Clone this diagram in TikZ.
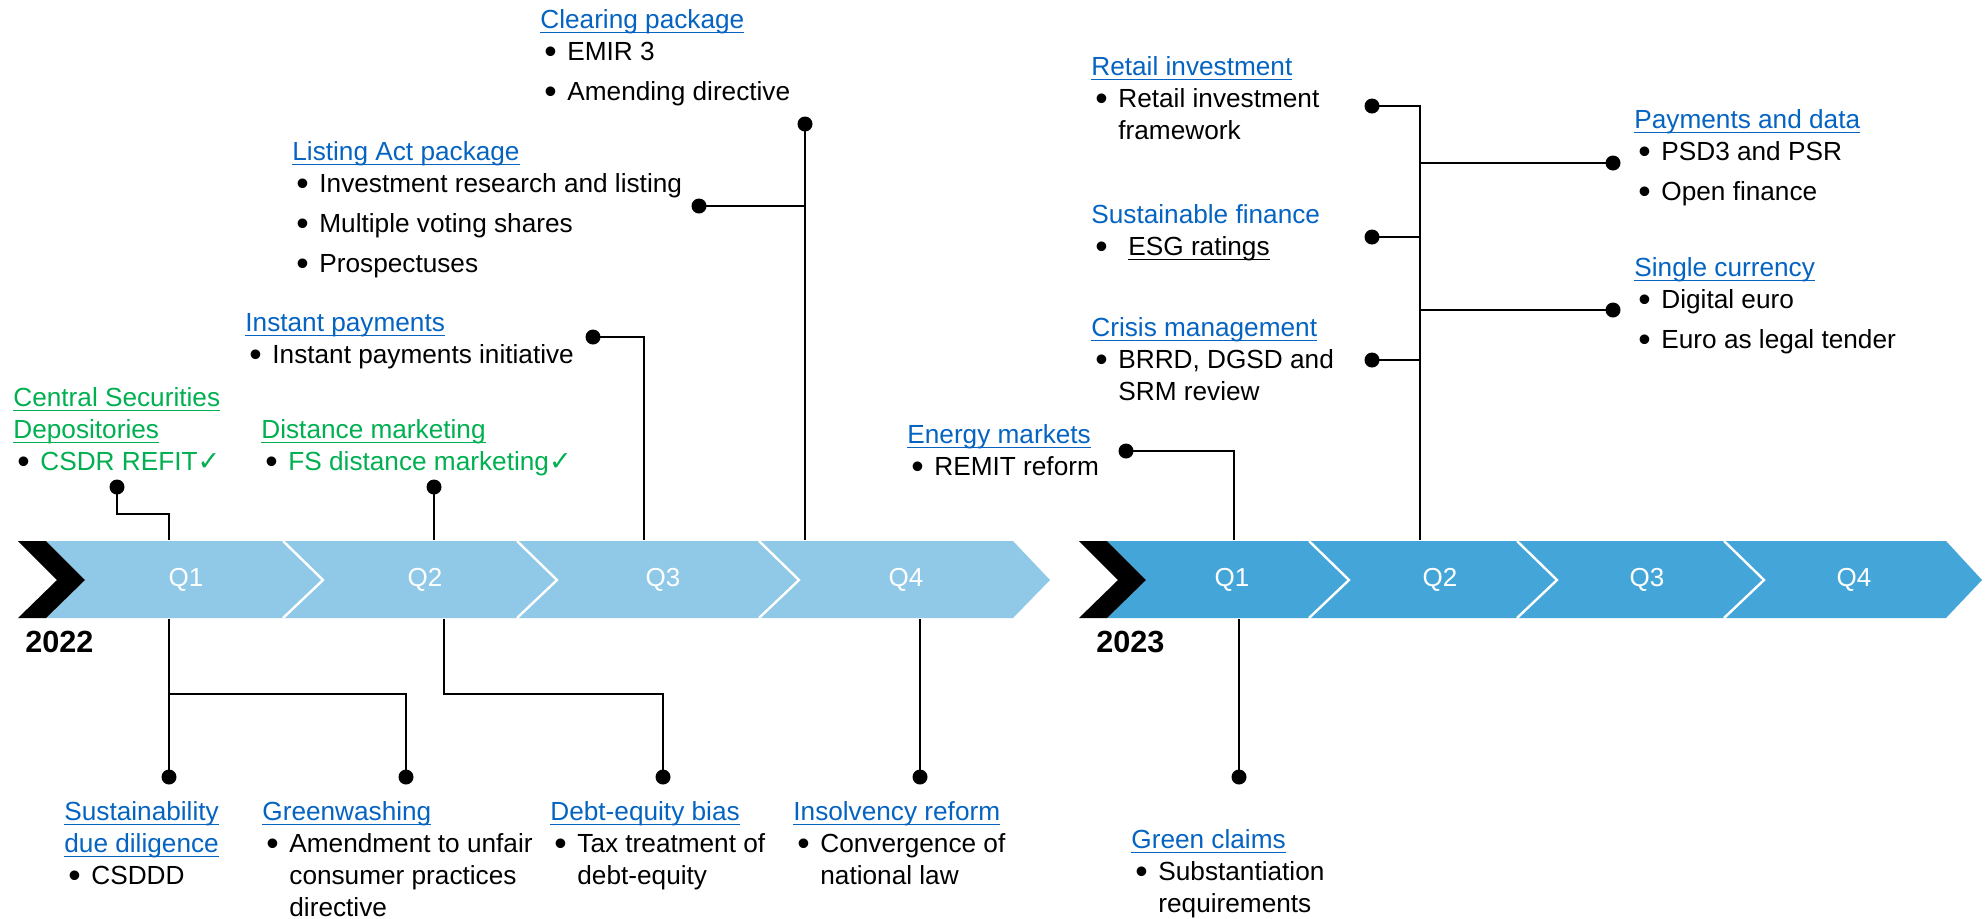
\documentclass[tikz,border=0pt]{standalone}
\usepackage{fontspec}
\usepackage{graphicx}
\setmainfont{Liberation Sans}
\newfontfamily\symf{DejaVu Sans}
\usetikzlibrary{positioning,calc}
\definecolor{lnk}{RGB}{5,99,193}
\definecolor{grn}{RGB}{0,176,80}
\definecolor{barA}{RGB}{143,201,231}
\definecolor{barB}{RGB}{68,166,216}
\newcommand{\ulin}[1]{\setbox0\hbox{#1}\rlap{\rule[-2.3pt]{\wd0}{0.55pt}}\box0}
\newcommand{\ttl}[1]{\textcolor{lnk}{\ulin{#1}}}
\newcommand{\gttl}[1]{\textcolor{grn}{\ulin{#1}}}
\newcommand{\itm}[1]{\makebox[13.5pt][l]{\hspace{2pt}\raisebox{-1.6pt}{\scalebox{1.35}{\textbullet}}}#1}
\newcommand{\cnt}[1]{\hspace*{13.5pt}#1}
\newcommand{\ok}{{\symf\fontsize{13.5}{14}\selectfont ✓}}
\tikzset{
  lbl/.style={anchor=base west, inner sep=0pt, font=\fontsize{13.1}{16}\selectfont},
  dot/.style={circle, fill=black, inner sep=0pt, minimum size=7.5pt},
  qq/.style={text=white, font=\fontsize{13}{15}\selectfont},
  yr/.style={anchor=west, inner sep=0pt, font=\fontsize{15.3}{18}\selectfont\bfseries},
  cn/.style={line width=1.2pt},
  sep/.style={draw=white, line width=1.2pt}
}
\begin{document}
\begin{tikzpicture}[x=0.5pt, y=-0.5pt]
	\useasboundingbox (0,0) rectangle (1987,918);
	% 2022 bar
	\fill[barA] (46,541) -- (1013,541) -- (1050,580) -- (1013,618) -- (46,618) -- (85,580) -- cycle;
	\fill (18,541) -- (46,541) -- (85,580) -- (46,618) -- (18,618) -- (57,580) -- cycle;
	\foreach \s in {283,517,759}
		\draw[sep] (\s,541) -- (\s+40,580) -- (\s,618);
	% 2023 bar
	\fill[barB] (1107,541) -- (1946,541) -- (1982,580) -- (1946,618) -- (1107,618) -- (1146,580) -- cycle;
	\fill (1079,541) -- (1107,541) -- (1146,580) -- (1107,618) -- (1079,618) -- (1118,580) -- cycle;
	\foreach \s in {1309,1517,1724}
		\draw[sep] (\s,541) -- (\s+40,580) -- (\s,618);
	%
	\node[qq] (a1) at (186,580) {Q1};
	\node[qq] (a2) at (425,580) {Q2};
	\node[qq] (a3) at (663,580) {Q3};
	\node[qq] (a4) at (906,580) {Q4};
	\node[qq] (b1) at (1232,580) {Q1};
	\node[qq] (b2) at (1440,580) {Q2};
	\node[qq] (b3) at (1647,580) {Q3};
	\node[qq] (b4) at (1854,580) {Q4};
	\node[yr] (y22) at (25,642) {2022};
	\node[yr] (y23) at (1096,642) {2023};
	%
	\node[lbl] (clr) at (540,28) {\begin{tabular}[t]{@{}l@{}}\ttl{Clearing package}\\ \itm{EMIR 3}\\[4pt] \itm{Amending directive}\end{tabular}};
	\node[lbl] (lst) at (292,160) {\begin{tabular}[t]{@{}l@{}}\ttl{Listing Act package}\\ \itm{Investment research and listing}\\[4pt] \itm{Multiple voting shares}\\[4pt] \itm{Prospectuses}\end{tabular}};
	\node[lbl] (ins) at (245,331) {\begin{tabular}[t]{@{}l@{}}\ttl{Instant payments}\\ \itm{Instant payments initiative}\end{tabular}};
	\node[lbl] (csd) at (13,406) {\begin{tabular}[t]{@{}l@{}}\gttl{Central Securities}\\ \gttl{Depositories}\\ \itm{\textcolor{grn}{CSDR REFIT\ok}}\end{tabular}};
	\node[lbl] (dst) at (261,438) {\begin{tabular}[t]{@{}l@{}}\gttl{Distance marketing}\\ \itm{\textcolor{grn}{FS distance marketing\ok}}\end{tabular}};
	\node[lbl] (sus) at (64,820) {\begin{tabular}[t]{@{}l@{}}\ttl{Sustainability}\\ \ttl{due diligence}\\ \itm{CSDDD}\end{tabular}};
	\node[lbl] (grw) at (262,820) {\begin{tabular}[t]{@{}l@{}}\ttl{Greenwashing}\\ \itm{Amendment to unfair}\\ \cnt{consumer practices}\\ \cnt{directive}\end{tabular}};
	\node[lbl] (dbt) at (550,820) {\begin{tabular}[t]{@{}l@{}}\ttl{Debt-equity bias}\\ \itm{Tax treatment of}\\ \cnt{debt-equity}\end{tabular}};
	\node[lbl] (insv) at (793,820) {\begin{tabular}[t]{@{}l@{}}\ttl{Insolvency reform}\\ \itm{Convergence of}\\ \cnt{national law}\end{tabular}};
	\node[lbl] (enr) at (907,443) {\begin{tabular}[t]{@{}l@{}}\ttl{Energy markets}\\ \itm{REMIT reform}\end{tabular}};
	\node[lbl] (ret) at (1091,75) {\begin{tabular}[t]{@{}l@{}}\ttl{Retail investment}\\ \itm{Retail investment}\\ \cnt{framework}\end{tabular}};
	\node[lbl] (sfn) at (1091,223) {\begin{tabular}[t]{@{}l@{}}\textcolor{lnk}{Sustainable finance}\\ \itm{\hspace{5pt}\ulin{ESG ratings}}\end{tabular}};
	\node[lbl] (crs) at (1091,336) {\begin{tabular}[t]{@{}l@{}}\ttl{Crisis management}\\ \itm{BRRD, DGSD and}\\ \cnt{SRM review}\end{tabular}};
	\node[lbl] (pay) at (1634,128) {\begin{tabular}[t]{@{}l@{}}\ttl{Payments and data}\\ \itm{PSD3 and PSR}\\[4pt] \itm{Open finance}\end{tabular}};
	\node[lbl] (sgl) at (1634,276) {\begin{tabular}[t]{@{}l@{}}\ttl{Single currency}\\ \itm{Digital euro}\\[4pt] \itm{Euro as legal tender}\end{tabular}};
	\node[lbl] (grc) at (1131,848) {\begin{tabular}[t]{@{}l@{}}\ttl{Green claims}\\ \itm{Substantiation}\\ \cnt{requirements}\end{tabular}};
	%
	\node[dot] (dcsd) at (117,487) {};
	\node[dot] (ddst) at (434,487) {};
	\node[dot] (dins) at (593,337) {};
	\node[dot] (dlst) at (699,206) {};
	\node[dot] (dclr) at (805,124) {};
	\node[dot] (dsus) at (169,777) {};
	\node[dot] (dgrw) at (406,777) {};
	\node[dot] (ddbt) at (663,777) {};
	\node[dot] (dinsv) at (920,777) {};
	\node[dot] (denr) at (1126,451) {};
	\node[dot] (dret) at (1372,106) {};
	\node[dot] (dsfn) at (1372,237) {};
	\node[dot] (dcrs) at (1372,360) {};
	\node[dot] (dpay) at (1613,163) {};
	\node[dot] (dsgl) at (1613,310) {};
	\node[dot] (dgrc) at (1239,777) {};
	%
	\coordinate (a1t) at (169,540);
	\coordinate (a2t) at (434,540);
	\coordinate (a3t) at (644,540);
	\coordinate (a4t) at (805,540);
	\coordinate (a1b) at (169,619);
	\coordinate (a2b) at (444,619);
	\coordinate (a4b) at (920,619);
	\coordinate (b1t) at (1234,540);
	\coordinate (b2t) at (1420,540);
	\coordinate (b1b) at (1239,619);
	%
	\draw[cn] (dcsd.center) -- ++(0,27) -| (a1t);
	\draw[cn] (ddst.center) -- (a2t);
	\draw[cn] (dins.center) -| (a3t);
	\draw[cn] (dclr.center) -- (a4t);
	\draw[cn] (dlst.center) -- (dlst -| a4t);
	\draw[cn] (a1b) -- (dsus.center);
	\draw[cn] (a1b) ++(0,75) -| (dgrw.center);
	\draw[cn] (a2b) -- ++(0,75) -| (ddbt.center);
	\draw[cn] (a4b) -- (dinsv.center);
	\draw[cn] (denr.center) -| (b1t);
	\draw[cn] (dret.center) -| (b2t);
	\draw[cn] (dsfn.center) -- (dsfn -| b2t);
	\draw[cn] (dcrs.center) -- (dcrs -| b2t);
	\draw[cn] (dpay.center) -- (dpay -| b2t);
	\draw[cn] (dsgl.center) -- (dsgl -| b2t);
	\draw[cn] (b1b) -- (dgrc.center);
\end{tikzpicture}
\end{document}
